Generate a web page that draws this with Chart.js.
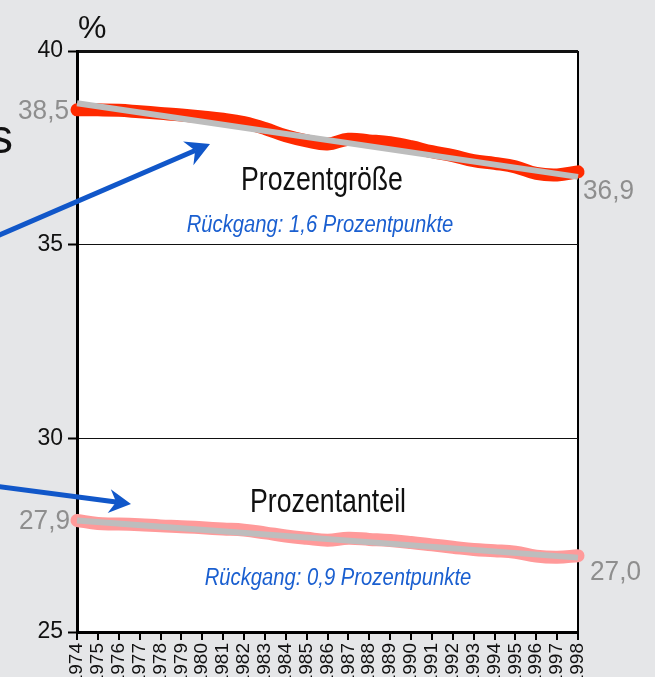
<!DOCTYPE html>
<html>
<head>
<meta charset="utf-8">
<script src="https://cdn.jsdelivr.net/npm/chart.js@4/dist/chart.umd.min.js"></script>
<style>
html, body { margin: 0; padding: 0; background: #e5e6e8; }
#wrap { width: 655px; height: 677px; }
</style>
</head>
<body>
<div id="wrap"><canvas id="chart" width="655" height="677"></canvas></div>
<script>
// Jahre 1974 - 1998
const years = ['1974', '1975', '1976', '1977', '1978', '1979', '1980', '1981', '1982', '1983', '1984', '1985', '1986',
    '1987', '1988', '1989', '1990', '1991', '1992', '1993', '1994', '1995', '1996', '1997', '1998'];

// Prozentgröße (rote Kurve)
const groesse = [38.48, 38.48, 38.47, 38.43, 38.39, 38.35, 38.30, 38.24, 38.15, 38.00, 37.81, 37.68, 37.60,
    37.72, 37.68, 37.63, 37.53, 37.40, 37.30, 37.17, 37.10, 37.01, 36.84, 36.80, 36.88];

// Prozentanteil (rosa Kurve)
const anteil = [27.88, 27.80, 27.79, 27.77, 27.74, 27.72, 27.69, 27.66, 27.63, 27.56, 27.48, 27.42, 27.37,
    27.42, 27.39, 27.36, 27.31, 27.25, 27.19, 27.13, 27.10, 27.06, 26.96, 26.93, 26.97];

// Trendlinien (Anfang, Ende)
const trendGroesse = [38.65, 36.75];
const trendAnteil = [27.88, 26.92];

const yTicks = [25, 30, 35, 40];

const FONT = "'Liberation Sans', Arial, sans-serif";

function trendData(t) {
    return years.map((y, i) => i === 0 ? t[0] : (i === years.length - 1 ? t[1] : null));
}
function fmt(v) {
    return (Math.round(v * 10) / 10).toFixed(1).replace('.', ',');
}

function text(ctx, str, x, y, size, color, align, sx, italic) {
    ctx.save();
    ctx.font = (italic ? 'italic ' : '') + size + 'px ' + FONT;
    ctx.fillStyle = color;
    ctx.textAlign = align;
    ctx.textBaseline = 'alphabetic';
    ctx.translate(x, y);
    ctx.scale(sx, 1);
    ctx.fillText(str, 0, 0);
    ctx.restore();
}

function arrow(ctx, x0, y0, x1, y1, len) {
    const a = Math.atan2(y1 - y0, x1 - x0);
    const th = 0.5;
    ctx.save();
    ctx.strokeStyle = '#1157c9';
    ctx.fillStyle = '#1157c9';
    ctx.lineWidth = 5;
    ctx.beginPath();
    ctx.moveTo(x0, y0);
    ctx.lineTo(x1 - Math.cos(a) * len * 0.6, y1 - Math.sin(a) * len * 0.6);
    ctx.stroke();
    ctx.beginPath();
    ctx.moveTo(x1, y1);
    ctx.lineTo(x1 - Math.cos(a + th) * len, y1 - Math.sin(a + th) * len);
    ctx.lineTo(x1 - Math.cos(a) * len * 0.6, y1 - Math.sin(a) * len * 0.6);
    ctx.lineTo(x1 - Math.cos(a - th) * len, y1 - Math.sin(a - th) * len);
    ctx.closePath();
    ctx.fill();
    ctx.restore();
}

const decoPlugin = {
    id: 'deco',
    beforeDraw(chart) {
        const ctx = chart.ctx, a = chart.chartArea;
        ctx.save();
        ctx.fillStyle = '#ffffff';
        ctx.fillRect(a.left, a.top, a.right - a.left, a.bottom - a.top);
        ctx.restore();
    },
    afterDraw(chart) {
        const ctx = chart.ctx;
        const xs = chart.scales.x, ys = chart.scales.y;
        const last = years.length - 1;
        const xl = xs.getPixelForValue(0), xr = xs.getPixelForValue(last);

        // Werte am Anfang und Ende
        text(ctx, fmt(groesse[0]), xl - 8, ys.getPixelForValue(groesse[0]) + 9, 27, '#8e8e8e', 'right', 0.97);
        text(ctx, fmt(groesse[last]), xr + 5, ys.getPixelForValue(groesse[last]) + 27, 27, '#8e8e8e', 'left', 0.97);
        text(ctx, fmt(anteil[0]), xl - 7, ys.getPixelForValue(anteil[0]) + 9, 27, '#8e8e8e', 'right', 0.97);
        text(ctx, fmt(anteil[last]), xr + 12, ys.getPixelForValue(anteil[last]) + 24, 27, '#8e8e8e', 'left', 0.97);

        // Beschriftungen
        text(ctx, 'Prozentgröße', 322, 190, 33, '#111111', 'center', 0.81);
        text(ctx, 'Rückgang: 1,6 Prozentpunkte', 320, 232, 23, '#1a5fd0', 'center', 0.88, true);
        text(ctx, 'Prozentanteil', 328, 512, 33, '#111111', 'center', 0.81);
        text(ctx, 'Rückgang: 0,9 Prozentpunkte', 338, 585, 23, '#1a5fd0', 'center', 0.88, true);

        text(ctx, '%', 78, 38, 32, '#111111', 'left', 1);
        text(ctx, 's', 13, 153, 48, '#111111', 'right', 1);

        arrow(ctx, -5, 237, 210, 144, 27);
        arrow(ctx, -5, 486, 131, 504, 25);
    }
};

const ctxChart = document.getElementById('chart');
new Chart(ctxChart, {
    type: 'line',
    data: {
        labels: years,
        datasets: [
            {
                label: 'Trend Prozentgröße',
                data: trendData(trendGroesse),
                spanGaps: true,
                borderColor: '#bdbdbd',
                borderWidth: 6,
                pointRadius: 0,
                tension: 0,
                order: 0,
            },
            {
                label: 'Prozentgröße',
                data: groesse,
                borderColor: '#ff2a00',
                borderWidth: 13,
                borderCapStyle: 'round',
                pointRadius: 0,
                tension: 0.4,
                clip: false,
                order: 1,
            },
            {
                label: 'Trend Prozentanteil',
                data: trendData(trendAnteil),
                spanGaps: true,
                borderColor: '#bdbdbd',
                borderWidth: 6,
                pointRadius: 0,
                tension: 0,
                order: 0,
            },
            {
                label: 'Prozentanteil',
                data: anteil,
                borderColor: '#ff9a9a',
                borderWidth: 13,
                borderCapStyle: 'round',
                pointRadius: 0,
                tension: 0.4,
                clip: false,
                order: 1,
            }
        ]
    },
    options: {
        responsive: false,
        devicePixelRatio: 1,
        animation: false,
        layout: { padding: { top: 51, right: 77, left: 0, bottom: 0 } },
        plugins: {
            legend: { display: false },
            tooltip: { enabled: false },
        },
        scales: {
            x: {
                offset: false,
                ticks: {
                    autoSkip: false,
                    maxRotation: 90,
                    minRotation: 90,
                    padding: 3,
                    color: '#111',
                    font: { family: FONT, size: 19 },
                },
                grid: {
                    color: c => c.index === years.length - 1 ? '#000' : 'rgba(0,0,0,0)',
                    lineWidth: 2,
                    tickColor: '#000',
                    tickWidth: 2,
                    tickLength: 8,
                },
                border: { color: '#000', width: 3 },
                afterFit: s => { s.height = 45; },
            },
            y: {
                min: yTicks[0],
                max: yTicks[yTicks.length - 1],
                afterBuildTicks: s => { s.ticks = yTicks.map(v => ({ value: v })); },
                ticks: {
                    padding: 5,
                    color: '#111',
                    font: { family: FONT, size: 23 },
                },
                grid: {
                    color: c => c.tick && c.tick.value === 25 ? 'rgba(0,0,0,0)' : '#111',
                    lineWidth: c => c.tick && c.tick.value === 40 ? 3 : 1,
                    tickColor: '#000',
                    tickWidth: 2,
                    tickLength: 9,
                },
                border: { color: '#000', width: 3 },
                afterFit: s => { s.width = 77; },
            }
        }
    },
    plugins: [decoPlugin]
});
</script>
</body>
</html>
